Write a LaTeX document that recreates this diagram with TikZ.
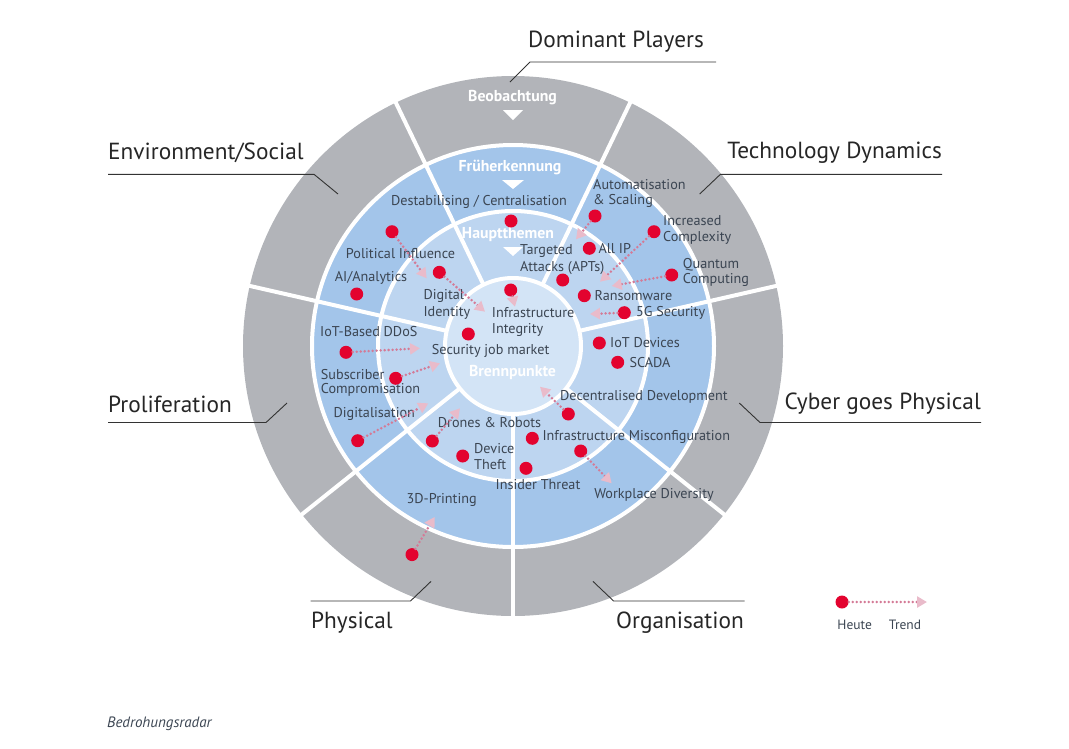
\documentclass[tikz,border=0pt]{standalone}
\usepackage{fontspec}
\setmainfont{PT Sans}
\usetikzlibrary{arrows.meta}
\definecolor{ringgray}{HTML}{B2B4B9}
\definecolor{ringblue}{HTML}{A3C5EA}
\definecolor{ringlight}{HTML}{BDD5F0}
\definecolor{corecol}{HTML}{D3E4F6}
\definecolor{txt}{HTML}{3B4552}
\definecolor{dotred}{HTML}{E3032F}
\definecolor{trendpink}{HTML}{D47A96}
\definecolor{trendhead}{HTML}{E9BBCA}
\tikzset{
  lbl/.style={font=\fontsize{14.2}{16}\selectfont, text=txt, inner sep=0pt, anchor=west},
  lblc/.style={lbl, anchor=center},
  ringlbl/.style={font=\bfseries\fontsize{15.8}{18}\selectfont, text=white, inner sep=0pt},
  sectorlbl/.style={font=\fontsize{23.3}{26}\selectfont, text=black!85, inner sep=0pt},
  leader/.style={draw=black!80, line width=0.9pt},
  dot/.style={circle, fill=dotred, minimum size=13pt, inner sep=0pt},
  trend/.style={trendpink, line width=2.8pt, line cap=round, dash pattern=on 0pt off 4pt,
    -{Triangle[length=10pt,width=11pt,color=trendhead]}},
  sepline/.style={white, line width=4pt},
}
\begin{document}
\begin{tikzpicture}[x=1pt,y=-1pt]
\useasboundingbox (0,0) rectangle (1069,748);
% rings
\begin{scope}[shift={(513,346)}]
  \fill[ringgray] (0,0) circle[radius=270];
  \fill[ringblue] (0,0) circle[radius=201];
  \fill[ringlight] (0,0) circle[radius=135];
  \fill[corecol] (0,0) circle[radius=68];
  \foreach \a in {270,321.43,12.86,64.29,115.71,167.14,218.57}
    \draw[sepline] (-\a:68) -- (-\a:272);
  \draw[sepline] (0,0) circle[radius=201];
  \draw[sepline] (0,0) circle[radius=135];
  \draw[sepline] (0,0) circle[radius=68];
\end{scope}
% ring titles
\node[ringlbl] (beob) at (512.5,97.7) {Beobachtung};
\fill[white] (503,110) -- (523,110) -- (513,120) -- cycle;
\node[ringlbl] (frueh) at (510,167) {Früherkennung};
\fill[white] (502,180) -- (524,180) -- (513,189) -- cycle;
\node[ringlbl] (haupt) at (508,235) {Hauptthemen};
\fill[white] (503,247) -- (523,247) -- (513,256) -- cycle;
\node[ringlbl] (brenn) at (512.5,372) {Brennpunkte};
% sector labels and leaders
\node[sectorlbl, anchor=west] (sDP) at (528,42) {Dominant Players};
\coordinate (dpA) at (510,82); \coordinate (dpB) at (530,62); \coordinate (dpC) at (716,62);
\draw[leader] (dpA) -- (dpB) -- (dpC);
\node[sectorlbl, anchor=west] (sES) at (108,153) {Environment/Social};
\coordinate (esA) at (338,194); \coordinate (esB) at (314,174.3); \coordinate (esC) at (108,174.3);
\draw[leader] (esA) -- (esB) -- (esC);
\node[sectorlbl, anchor=east] (sTD) at (942,153) {Technology Dynamics};
\coordinate (tdA) at (699.7,194); \coordinate (tdB) at (720.4,174.3); \coordinate (tdC) at (942,174.3);
\draw[leader] (tdA) -- (tdB) -- (tdC);
\node[sectorlbl, anchor=west] (sPR) at (108,404) {Proliferation};
\coordinate (prA) at (287,403); \coordinate (prB) at (266,422.5); \coordinate (prC) at (108,422.5);
\draw[leader] (prA) -- (prB) -- (prC);
\node[sectorlbl, anchor=east] (sCP) at (981,404) {Cyber goes Physical};
\coordinate (cpA) at (739.3,403); \coordinate (cpB) at (760,422.5); \coordinate (cpC) at (981,422.5);
\draw[leader] (cpA) -- (cpB) -- (cpC);
\node[sectorlbl, anchor=west] (sPH) at (311,623) {Physical};
\coordinate (phA) at (431,581.4); \coordinate (phB) at (410.5,601); \coordinate (phC) at (310.6,601);
\draw[leader] (phA) -- (phB) -- (phC);
\node[sectorlbl, anchor=east] (sOR) at (744,623) {Organisation};
\coordinate (orA) at (593,581.4); \coordinate (orB) at (613.6,601); \coordinate (orC) at (744.5,601);
\draw[leader] (orA) -- (orB) -- (orC);
% topic labels
\node[lblc] (destab) at (479,202) {Destabilising / Centralisation};
\node[lbl] (auto1) at (593,184.3) {Automatisation};
\node[lbl] (auto2) at (593,201) {\& Scaling};
\node[lbl] (incr1) at (663,221) {Increased};
\node[lbl] (incr2) at (663,238.3) {Complexity};
\node[lblc] (polit) at (400.5,254) {Political Influence};
\node[lbl] (targ1) at (520,251) {Targeted};
\node[lbl] (targ2) at (520,267.7) {Attacks (APTs)};
\node[lbl] (allip) at (598.3,249) {All IP};
\node[lbl] (quant1) at (682.7,264.3) {Quantum};
\node[lbl] (quant2) at (682.7,280) {Computing};
\node[lblc] (ai) at (371,278) {AI/Analytics};
\node[lbl] (dig1) at (423.3,295.7) {Digital};
\node[lbl] (dig2) at (423.3,312.7) {Identity};
\node[lbl] (ransom) at (594.3,296) {Ransomware};
\node[lbl] (infra1) at (491.7,312.5) {Infrastructure};
\node[lbl] (infra2) at (491.7,329.5) {Integrity};
\node[lbl] (fiveg) at (636,313) {5G Security};
\node[lbl] (iotddos) at (320,331.7) {IoT-Based DDoS};
\node[lbl] (iotdev) at (610,342.5) {IoT Devices};
\node[lbl] (secjob) at (431.7,351) {Security job market};
\node[lbl] (scada) at (629.3,362.5) {SCADA};
\node[lbl] (subs1) at (320.7,374.3) {Subscriber};
\node[lbl] (subs2) at (320.7,390) {Compromisation};
\node[lbl] (decent) at (560,396.7) {Decentralised Development};
\node[lblc] (digit) at (374.3,414.3) {Digitalisation};
\node[lbl] (drones) at (437.7,422.3) {Drones \& Robots};
\node[lbl] (misconf) at (542.3,436.7) {Infrastructure Misconfiguration};
\node[lbl] (dev1) at (474,448.3) {Device};
\node[lbl] (dev2) at (474,465) {Theft};
\node[lblc] (insider) at (538,485) {Insider Threat};
\node[lblc] (workpl) at (654,495) {Workplace Diversity};
\node[lblc] (print3d) at (441.7,500) {3D-Printing};
% dots with trends
\node[dot] (dAuto) at (595,216) {};      \coordinate (tAuto) at (576,239.3);
\node[dot] (dIncr) at (654,231.7) {};    \coordinate (tIncr) at (600,281.7);
\node[dot] (dPolit) at (392,231.7) {};   \coordinate (tPolit) at (426.7,278.3);
\node[dot] (dDig) at (439.3,272.3) {};   \coordinate (tDig) at (485,311.7);
\node[dot] (dInfra) at (510.7,290) {};   \coordinate (tInfra) at (515,306.7);
\node[dot] (dQuant) at (671.7,275) {};   \coordinate (tQuant) at (611.7,286);
\node[dot] (dFive) at (624.3,312.7) {};  \coordinate (tFive) at (590,314);
\node[dot] (dDdos) at (346,352.3) {};    \coordinate (tDdos) at (420,348.3);
\node[dot] (dSubs) at (395.7,378.3) {};  \coordinate (tSubs) at (440,363.3);
\node[dot] (dDigit) at (357.7,440.7) {}; \coordinate (tDigit) at (428.3,403.3);
\node[dot] (dDron) at (432.3,441) {};    \coordinate (tDron) at (460,408.3);
\node[dot] (dDecen) at (568.3,414) {};   \coordinate (tDecen) at (540,386.7);
\node[dot] (dWork) at (580.7,451) {};    \coordinate (tWork) at (611.7,483.3);
\node[dot] (dPrint) at (412,554.6) {};   \coordinate (tPrint) at (434.6,517);
\foreach \s/\t in {dAuto/tAuto,dIncr/tIncr,dPolit/tPolit,dDig/tDig,dInfra/tInfra,dQuant/tQuant,dFive/tFive,dDdos/tDdos,dSubs/tSubs,dDigit/tDigit,dDron/tDron,dDecen/tDecen,dWork/tWork,dPrint/tPrint}
  \draw[trend] (\s) -- (\t);
% plain dots
\node[dot] (dDestab) at (511,221) {};
\node[dot] (dAllip) at (589.3,248.3) {};
\node[dot] (dTarg) at (562.7,280) {};
\node[dot] (dRansom) at (584.3,295.7) {};
\node[dot] (dAi) at (356.7,294) {};
\node[dot] (dSec) at (468.3,334) {};
\node[dot] (dIotd) at (599.3,343) {};
\node[dot] (dScada) at (617.7,362.3) {};
\node[dot] (dMisc) at (532.3,438.3) {};
\node[dot] (dDev) at (462.7,456) {};
\node[dot] (dIns) at (526,468.3) {};
% legend
\node[dot] (lgdot) at (842,602) {};
\coordinate (lgend) at (927,602);
\draw[trend] (lgdot) -- (lgend);
\node[lblc, font=\fontsize{13.5}{15}\selectfont] (heute) at (854.7,625) {Heute};
\node[lblc, font=\fontsize{13.5}{15}\selectfont] (trendlbl) at (905,625) {Trend};
\node[lbl, font=\itshape\fontsize{15}{17}\selectfont] (caption) at (107,724) {Bedrohungsradar};
\end{tikzpicture}
\end{document}
